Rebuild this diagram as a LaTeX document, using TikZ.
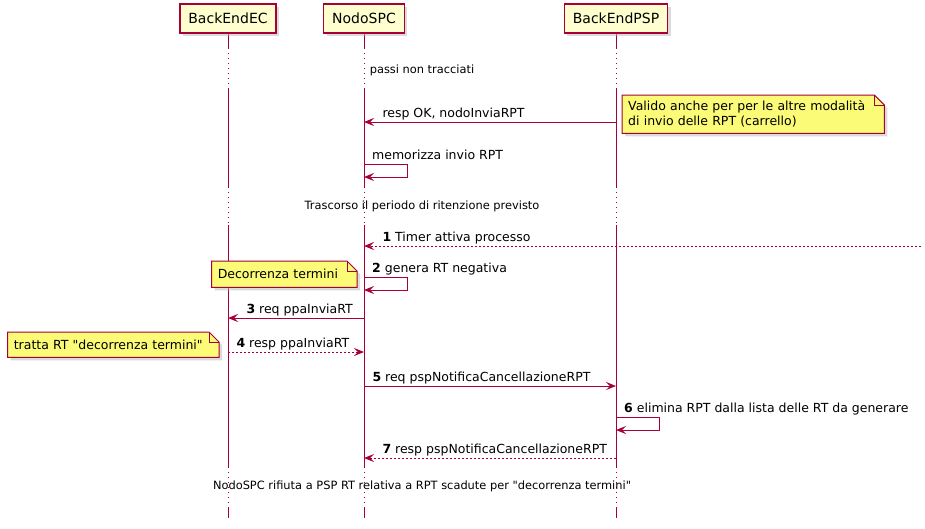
\documentclass[tikz,border=0pt]{standalone}
\usepackage{fontspec}
\setmainfont{DejaVu Sans}[Ligatures=TeXOff]
\usetikzlibrary{positioning,arrows.meta,shadows,calc}
\definecolor{umlred}{HTML}{A80036}
\definecolor{partfill}{HTML}{FEFECE}
\definecolor{notefill}{HTML}{FBFB77}
\pgfdeclarelayer{lifelines}
\pgfdeclarelayer{notes}
\pgfsetlayers{lifelines,notes,main}

\tikzset{
   umlshadow/.style={drop shadow={shadow xshift=3pt, shadow yshift=-3pt, fill=black!28}},
   participant/.style={draw=umlred, fill=partfill, line width=1.5pt, minimum height=29pt, inner xsep=8.5pt,
      font=\fontsize{14}{16}\selectfont, umlshadow},
   lifeline/.style={umlred, line width=1pt},
   delay/.style={umlred, line width=1pt, dash pattern=on 1pt off 4pt},
   msg/.style={umlred, line width=1pt, -{Stealth[length=10pt, width=8pt, inset=4pt]}},
   reply/.style={msg, dash pattern=on 2pt off 2pt},
   msglabel/.style={text=black, font=\fontsize{12.5}{15}\selectfont, anchor=base west, inner sep=0pt},
   delaylabel/.style={font=\fontsize{11.4}{13}\selectfont, inner sep=0pt},
   notetext/.style={font=\fontsize{12.5}{15}\selectfont, inner xsep=6pt, inner ysep=0pt, align=left},
   notebox/.style={draw=umlred, fill=notefill, line width=1pt, umlshadow},
   notefold/.style={draw=umlred, line width=1pt},
}

\newcommand{\notebody}[1]{%
   \begin{pgfonlayer}{notes}
      \draw[notebox] (#1.north west) -- ($(#1.north east)+(-10,0)$) -- ($(#1.north east)+(0,10)$)
         -- (#1.south east) -- (#1.south west) -- cycle;
      \draw[notefold] ($(#1.north east)+(-10,0)$) |- ($(#1.north east)+(0,10)$);
   \end{pgfonlayer}}

\begin{document}
\begin{tikzpicture}[x=1pt, y=-1pt]
   \useasboundingbox (0,0) rectangle (925,528);

   \node[participant] (ec) at (228,18.5) {BackEndEC};
   \node[participant] (nodo) at (364,18.5) {NodoSPC};
   \node[participant] (psp) at (616,18.5) {BackEndPSP};

   \begin{pgfonlayer}{lifelines}
      \foreach \p in {ec,nodo,psp}{
         \draw[lifeline] (\p.south) -- (\p |- 0,48);
         \foreach \a/\b in {48/88,187/225,467/507}
            \draw[delay] (\p |- 0,\a) -- (\p |- 0,\b);
         \foreach \a/\b in {88/187,225/467,507/518}
            \draw[lifeline] (\p |- 0,\a) -- (\p |- 0,\b);
      }
   \end{pgfonlayer}

   \node[delaylabel] (d1) at (422,70) {passi non tracciati};
   \node[delaylabel] (d2) at (422,206) {Trascorso il periodo di ritenzione previsto};
   \node[delaylabel] (d3) at (422,486) {NodoSPC rifiuta a PSP RT relativa a RPT scadute per "decorrenza termini"};

   \draw[msg] (psp |- 0,122) -- (nodo |- 0,122)
      node[msglabel, at end, xshift=18pt, yshift=5pt] {resp OK, nodoInviaRPT};
   \node[notetext, anchor=north west, text width=250pt, minimum height=38pt] (n1) at (622,95)
      {Valido anche per per le altre modalità\\di invio delle RPT (carrello)};
   \notebody{n1}

   \draw[msg] (nodo |- 0,164) -- ++(43,0) -- ++(0,13) -- (nodo |- 0,177);
   \node[msglabel] (m2) at ($(nodo |- 0,159)+(8,0)$) {memorizza invio RPT};

   \coordinate (timer) at (921,246);
   \draw[reply] (timer) -- (nodo |- timer)
      node[msglabel, at end, xshift=18pt, yshift=5pt] {\textbf{1} Timer attiva processo};

   \draw[msg] (nodo |- 0,277) -- ++(43,0) -- ++(0,13) -- (nodo |- 0,290);
   \node[msglabel] (m4) at ($(nodo |- 0,272)+(8,0)$) {\textbf{2} genera RT negativa};
   \node[notetext, anchor=north east, text width=133pt, minimum height=26pt] (n2) at ($(nodo |- 0,261)+(-7,0)$)
      {Decorrenza termini};
   \notebody{n2}

   \draw[msg] (nodo |- 0,318) -- (ec |- 0,318)
      node[msglabel, at end, xshift=18pt, yshift=5pt] {\textbf{3} req ppaInviaRT};
   \draw[reply] (ec |- 0,352) -- (nodo |- 0,352)
      node[msglabel, at start, xshift=8pt, yshift=5pt] {\textbf{4} resp ppaInviaRT};
   \node[notetext, anchor=north east, text width=199pt, minimum height=25pt] (n3) at ($(ec |- 0,332)+(-9,0)$)
      {tratta RT "decorrenza termini"};
   \notebody{n3}

   \draw[msg] (nodo |- 0,386) -- (psp |- 0,386)
      node[msglabel, at start, xshift=8pt, yshift=5pt] {\textbf{5} req pspNotificaCancellazioneRPT};
   \draw[msg] (psp |- 0,417) -- ++(43,0) -- ++(0,13) -- (psp |- 0,430);
   \node[msglabel] (m8) at ($(psp |- 0,412)+(8,0)$) {\textbf{6} elimina RPT dalla lista delle RT da generare};
   \draw[reply] (psp |- 0,458) -- (nodo |- 0,458)
      node[msglabel, at end, xshift=18pt, yshift=5pt] {\textbf{7} resp pspNotificaCancellazioneRPT};
\end{tikzpicture}
\end{document}
